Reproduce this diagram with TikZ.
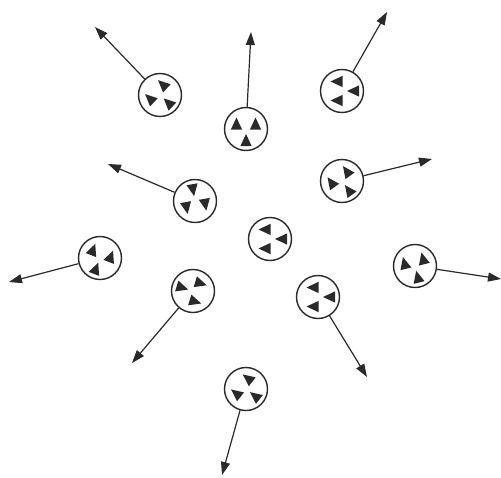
\documentclass[tikz,border=0pt]{standalone}
\usetikzlibrary{arrows.meta}
\definecolor{ink}{HTML}{2A2A2A}
\tikzset{
  magnet/.style={circle, draw=ink, line width=1.4pt, minimum size=43pt, inner sep=0pt, fill=white},
  vec/.style={draw=ink, line width=1.2pt, -{Triangle[length=13pt,width=9pt]}},
  tri/.style={fill=ink}
}
% \magtris{node}{screen angle}
\newcommand{\magtris}[2]{%
  \foreach \k in {60,-60,180} {
    \fill[tri, shift={(#1.center)}, rotate=-(#2)] ({\k}:11) ++(6,0) -- ++(-12,5.6) -- ++(0,-11.2) -- cycle;
  }%
}
\begin{document}
\begin{tikzpicture}[x=1pt,y=-1pt]
\useasboundingbox (0,0) rectangle (501,477);
\node[magnet] (c1) at (160,95) {};
\node[magnet] (c2) at (246,129) {};
\node[magnet] (c3) at (342,91) {};
\node[magnet] (c4) at (195,201) {};
\node[magnet] (c5) at (342,181) {};
\node[magnet] (c6) at (270,239) {};
\node[magnet] (c7) at (100,258) {};
\node[magnet] (c8) at (193,291) {};
\node[magnet] (c9) at (318,297) {};
\node[magnet] (c10) at (415,266) {};
\node[magnet] (c11) at (246,389) {};
\coordinate (e1) at (95,27);
\coordinate (e2) at (251,32);
\coordinate (e3) at (387,12);
\coordinate (e4) at (108,164);
\coordinate (e5) at (432,159);
\coordinate (e7) at (9,282);
\coordinate (e8) at (132,363);
\coordinate (e9) at (367,377);
\coordinate (e10) at (501,279);
\coordinate (e11) at (222,475);
\foreach \i in {1,2,3,4,5,7,8,9,10,11} { \draw[vec] (c\i) -- (e\i); }
\magtris{c1}{-137}
\magtris{c2}{-90}
\magtris{c3}{180}
\magtris{c4}{80}
\magtris{c5}{-126}
\magtris{c6}{180}
\magtris{c7}{-69}
\magtris{c8}{17}
\magtris{c9}{180}
\magtris{c10}{-104}
\magtris{c11}{-142}
\end{tikzpicture}
\end{document}
